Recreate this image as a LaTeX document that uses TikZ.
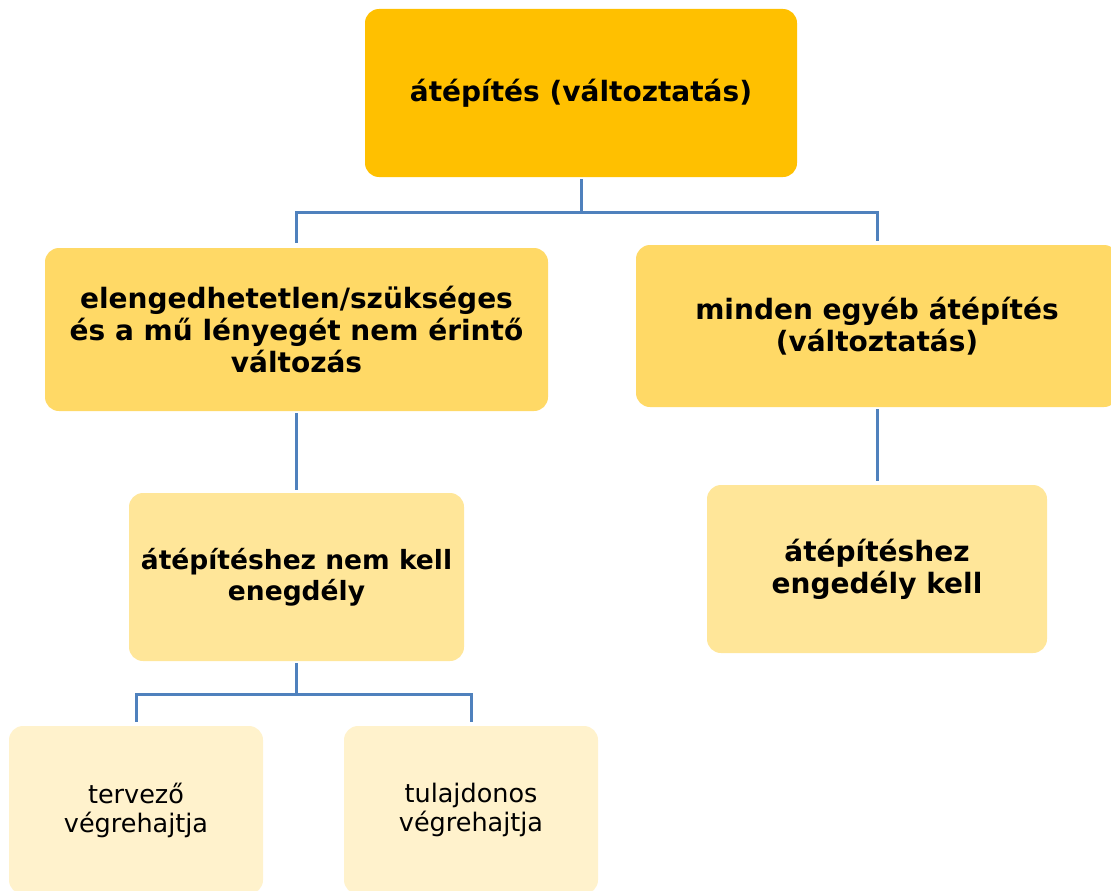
\documentclass[tikz,border=0pt]{standalone}
\usepackage{fontspec}
\setmainfont{DejaVu Sans}
\usetikzlibrary{positioning}
\definecolor{boxA}{HTML}{FFC000}
\definecolor{boxB}{HTML}{FFD966}
\definecolor{boxC}{HTML}{FFE699}
\definecolor{boxD}{HTML}{FFF2CC}
\definecolor{linkblue}{HTML}{4F81BD}
\begin{document}
\begin{tikzpicture}[x=1pt,y=-1pt,
    box/.style={rounded corners=14pt, inner sep=0pt, align=center,
      font=\bfseries\fontsize{28}{32}\selectfont},
    leaf/.style={box, fill=boxD, minimum width=254pt, minimum height=168pt,
      font=\fontsize{25.5}{29}\selectfont},
    link/.style={draw=linkblue, line width=3pt}]
  \useasboundingbox (0,0) rectangle (1111,891);
  \clip (0,0) rectangle (1111,891);
  % boxes
  \node[box, fill=boxA, minimum width=432pt, minimum height=168pt] (top) at (581,93) {átépítés (változtatás)};
  \node[box, fill=boxB, minimum width=503pt, minimum height=163pt] (lmid) at (296.5,329.5) {elengedhetetlen/szükséges\\és a mű lényegét nem érintő\\változás};
  \node[box, fill=boxB, minimum width=482pt, minimum height=162pt] (rmid) at (877,326) {minden egyéb átépítés\\(változtatás)};
  \node[box, fill=boxC, minimum width=335pt, minimum height=168pt,
    font=\bfseries\fontsize{26.5}{31}\selectfont] (lkid) at (296.5,577) {átépítéshez nem kell\\enegdély};
  \node[box, fill=boxC, minimum width=340pt, minimum height=168pt] (rkid) at (877,569) {átépítéshez\\engedély kell};
  \node[leaf] (tervezo) at (136,810) {tervező\\végrehajtja};
  \node[leaf] (tulaj) at (471,810) {tulajdonos\\végrehajtja};
  % connectors
  \draw[link] ([yshift=-2pt]top.south) -- ++(0,33) -| ([yshift=5pt]lmid.north);
  \draw[link] ([yshift=-2pt]top.south) -- ++(0,33) -| ([yshift=4pt]rmid.north);
  \draw[link] ([yshift=-2pt]lmid.south) -- ([yshift=3pt]lkid.north);
  \draw[link] ([yshift=-2pt]rmid.south) -- ([yshift=4pt]rkid.north);
  \draw[link] ([yshift=-2pt]lkid.south) -- ++(0,31) -| ([yshift=4pt]tervezo.north);
  \draw[link] ([yshift=-2pt]lkid.south) -- ++(0,31) -| ([yshift=4pt]tulaj.north);
\end{tikzpicture}
\end{document}
